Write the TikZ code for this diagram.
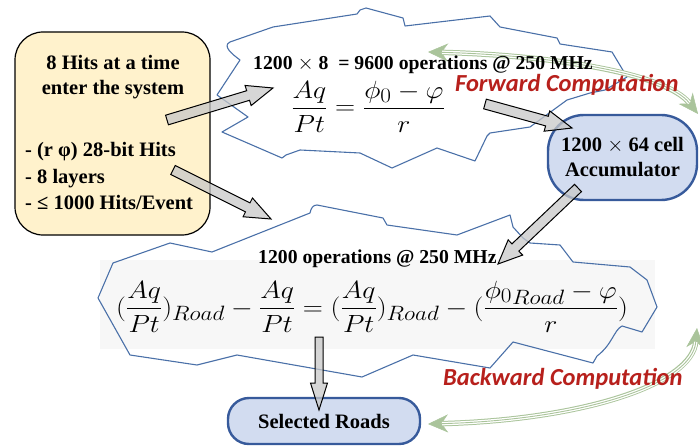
\documentclass[tikz,border=0pt]{standalone}
\usepackage{amsmath}
\usepackage{graphicx}
\usepackage{fontspec}
\setmainfont{Liberation Serif}
\newfontfamily\labelfont{Carlito}
\usetikzlibrary{calc,arrows.meta}

\definecolor{cloudblue}{RGB}{74,112,168}
\definecolor{hitfill}{RGB}{255,242,204}
\definecolor{accfill}{RGB}{210,220,240}
\definecolor{accdraw}{RGB}{55,90,155}
\definecolor{flowgreen}{RGB}{170,196,155}
\definecolor{computered}{RGB}{183,32,28}
\definecolor{eqback}{RGB}{247,247,247}
\definecolor{arrowgray}{RGB}{200,200,200}

\tikzset{
  cloud line/.style={draw=cloudblue, line width=1.1pt, line join=round},
  hitsbox/.style={draw=black, line width=1.2pt, fill=hitfill, rounded corners=28pt,
    minimum width=195pt, minimum height=203pt, inner sep=0pt},
  bluebox/.style={draw=accdraw, line width=2.4pt, fill=accfill, inner sep=0pt, align=center,
    font=\fontsize{20.5}{25}\selectfont\bfseries},
  boldtext/.style={font=\fontsize{20.5}{24}\selectfont\bfseries, inner sep=0pt},
  opstext/.style={font=\fontsize{19.7}{23}\selectfont\bfseries, inner sep=0pt, anchor=base west},
  redlabel/.style={font=\labelfont\fontsize{24.5}{28}\selectfont\bfseries\itshape,
    text=computered, inner sep=0pt, anchor=base west},
  eqtext/.style={font=\fontsize{28}{32}\selectfont, inner sep=0pt, anchor=base west},
  blockarrow/.style={draw=black, line width=1pt, fill=arrowgray, fill opacity=0.75, line join=miter},
  flowouter/.style={draw=flowgreen, line width=5.4pt},
  flowinner/.style={draw=white, line width=3.4pt, shorten <=14pt, shorten >=14pt},
  flowcore/.style={draw=flowgreen, line width=0.9pt, shorten <=14pt, shorten >=14pt},
  flowtip/.tip={Stealth[length=20pt, width=18pt, line width=0.5pt]},
}

% fat arrow from #1 to #2: half shaft width #3, half head width #4, head length #5
\newcommand\blockarrowpath[5]{%
  \coordinate (#1head) at ($(#2)!#5!(#1)$);
  \draw[blockarrow]
    ($(#1)!#3!90:(#2)$) -- ($(#1head)!#3!90:(#2)$) -- ($(#1head)!#4!90:(#2)$) -- (#2)
    -- ($(#1head)!#4!-90:(#2)$) -- ($(#1head)!#3!-90:(#2)$) -- ($(#1)!#3!-90:(#2)$) -- cycle;}

% equations are set a little wider than the math font gives
\newcommand\wideeq[1]{\scalebox{1.12}[1]{#1}}

\begin{document}
\begin{tikzpicture}[x=1pt, y=-1pt]
\useasboundingbox (0,0) rectangle (700,446);

% light panel behind the road equation
\fill[eqback] (100,260) rectangle (655,349);

% forward computation cloud
\draw[cloud line] (273,27) -- (357,14) -- (360,10) -- (366,8) -- (403,18) -- (405,26)
  -- (490,16) -- (500,27) -- (557,38) -- (560,44) -- (612,52) -- (627,77) -- (605,90)
  -- (590,93) -- (567,100) -- (530,127) -- (490,133) -- (487,136) -- (475,161)
  -- (437,148) -- (392,168) -- (360,153) -- (300,150) -- (286,155) -- (282,158)
  -- (222,132) -- (248,117) -- (217,95) -- (240,60) .. controls (232,54) and (222,46) .. (230,42)
  -- cycle;

% backward computation cloud
\draw[cloud line] (98,298) -- (113,263) -- (170,243) -- (212,252) -- (310,213)
  .. controls (311,208) and (313,205) .. (317,205) -- (383,218) -- (387,225) -- (457,235)
  -- (510,215) -- (513,227) -- (523,238) -- (530,243) -- (560,245) -- (573,262)
  -- (630,267) -- (647,280) -- (657,307) -- (642,332) -- (622,326)
  .. controls (614,330) and (612,345) .. (597,356) -- (593,363) -- (513,342) -- (490,368)
  -- (413,355) -- (362,377) -- (237,355) -- (197,365) -- (130,355) -- cycle;

% boxes
\node[hitsbox] (hits) at (112.5,133.5) {};
\node[bluebox, rounded corners=36pt, minimum width=149pt, minimum height=85pt]
  (acc) at (622.5,157.5) {1200 $\times$ 64 cell\\Accumulator};
\node[bluebox, rounded corners=21pt, minimum width=192pt, minimum height=46pt]
  (roads) at (324,421) {Selected Roads};

% texts of the input box
\node[boldtext, anchor=base] (hitsA) at (113,70) {8 Hits at a time};
\node[boldtext, anchor=base] (hitsB) at (113,95) {enter the system};
\node[boldtext, anchor=base west] (hitsC) at (25,157) {- (r φ) 28-bit Hits};
\node[boldtext, anchor=base west] (hitsD) at (25,184) {- 8 layers};
\node[boldtext, anchor=base west] (hitsE) at (25,210) {- ≤ 1000 Hits/Event};

% green loop arrows
\coordinate (fwdR) at (698,114);
\coordinate (fwdL) at (428,52);
\coordinate (bwdT) at (697,328);
\coordinate (bwdL) at (428,424);
\draw[flowouter, flowtip-flowtip] (fwdR) .. controls (665,72) and (545,55) .. (fwdL);
\draw[flowinner] (fwdR) .. controls (665,72) and (545,55) .. (fwdL);
\draw[flowcore] (fwdR) .. controls (665,72) and (545,55) .. (fwdL);
\draw[flowouter, flowtip-flowtip] (bwdT) .. controls (692,385) and (580,420) .. (bwdL);
\draw[flowinner] (bwdT) .. controls (692,385) and (580,420) .. (bwdL);
\draw[flowcore] (bwdT) .. controls (692,385) and (580,420) .. (bwdL);

% operation counts and equations
\node[opstext] (fwdops) at (253,70) {1200 $\times$ 8~\ = 9600 operations @ 250 MHz};
\node[eqtext] (fwdeq) at (291,115) {\wideeq{$\dfrac{Aq}{Pt} = \dfrac{\phi_0 - \varphi}{r}$}};
\node[opstext] (bwdops) at (258,263) {1200 operations @ 250 MHz};
\node[eqtext] (bwdeq) at (116,315)
  {\wideeq{$(\dfrac{Aq}{Pt})_{Road} - \dfrac{Aq}{Pt} = (\dfrac{Aq}{Pt})_{Road} - (\dfrac{{\phi_0}_{Road} - \varphi}{r})$}};

\node[redlabel] (fwdlabel) at (455,92) {Forward Computation};
\node[redlabel] (bwdlabel) at (443,385) {Backward Computation};

% data flow arrows
\coordinate (a1s) at (167,120);  \coordinate (a1e) at (273,88);
\coordinate (a2s) at (173,170);  \coordinate (a2e) at (271,219);
\coordinate (a3s) at (485,104);  \coordinate (a3e) at (572,128);
\coordinate (a4s) at (578,188);  \coordinate (a4e) at (498,264);
\coordinate (a5s) at (319,337);  \coordinate (a5e) at (319,410);
\blockarrowpath{a1s}{a1e}{5pt}{10.5pt}{26pt}
\blockarrowpath{a2s}{a2e}{5pt}{10.5pt}{26pt}
\blockarrowpath{a3s}{a3e}{5pt}{10.5pt}{26pt}
\blockarrowpath{a4s}{a4e}{5pt}{10.5pt}{24pt}
\blockarrowpath{a5s}{a5e}{4pt}{8.5pt}{27pt}
\end{tikzpicture}
\end{document}
